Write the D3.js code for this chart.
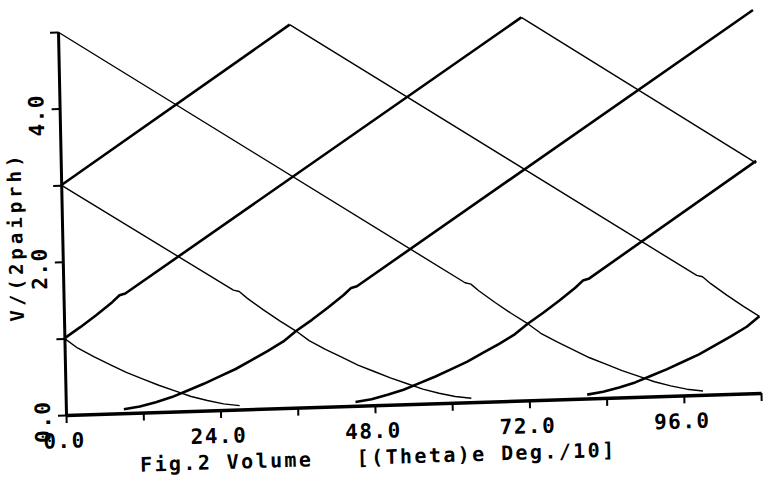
<!DOCTYPE html>
<meta charset="utf-8">
<svg width="764" height="488"></svg>
<style>
    body { margin: 0; background: #fff; }
    svg text {
        font-family: "DejaVu Sans Mono", monospace;
        font-weight: bold;
        fill: #000;
    }
</style>
<script src="https://d3js.org/d3.v7.min.js"></script>
<script>

    // axis ticks and labels
    var xTicks = [0, 12, 24, 36, 48, 60, 72, 84, 96, 108];
    var xLabels = [0, 24, 48, 72, 96];
    var yTicks = [0, 1, 2, 3, 4, 5];
    var yLabels = [0, 2, 4];

    // thick lines (volume rising)
    var rise0 = [[0, 3.0], [36, 5.0]];
    var rise1 = [[0, 1.0], [2.5, 1.14], [5, 1.29], [7.5, 1.45], [8.7, 1.54], [9.6, 1.56], [72, 5.0]];
    var rise2 = [[9, 0.05], [11.5, 0.08], [14, 0.13], [16.5, 0.19], [19, 0.27], [21.5, 0.35],
                 [24, 0.44], [26.5, 0.53], [29, 0.64], [31.5, 0.75], [34, 0.87], [36, 1.0],
                 [38.5, 1.14], [41, 1.29], [43.5, 1.45], [44.7, 1.54], [45.6, 1.56], [108, 5.0]];
    var rise3 = [[45, 0.05], [47.5, 0.08], [50, 0.13], [52.5, 0.19], [55, 0.27], [57.5, 0.35],
                 [60, 0.44], [62.5, 0.53], [65, 0.64], [67.5, 0.75], [70, 0.87], [72, 1.0],
                 [74.5, 1.14], [77, 1.29], [79.5, 1.45], [80.7, 1.54], [81.6, 1.56], [108, 3.03]];
    var rise4 = [[81, 0.05], [83.5, 0.08], [86, 0.13], [88.5, 0.19], [91, 0.27], [93.5, 0.35],
                 [96, 0.44], [98.5, 0.53], [101, 0.64], [103.5, 0.75], [106, 0.87], [108, 1.0]];

    // thin lines (volume falling)
    var fall0 = [[0, 1.0], [2, 0.87], [4.5, 0.75], [7, 0.64], [9.5, 0.53], [12, 0.44],
                 [14.5, 0.35], [17, 0.27], [19.5, 0.19], [22, 0.13], [24.5, 0.08], [27, 0.05]];
    var fall1 = [[0, 3.0], [26.4, 1.56], [27.3, 1.54], [28.5, 1.45], [31, 1.29], [33.5, 1.14],
                 [36, 1.0], [38, 0.87], [40.5, 0.75], [43, 0.64], [45.5, 0.53], [48, 0.44],
                 [50.5, 0.35], [53, 0.27], [55.5, 0.19], [58, 0.13], [60.5, 0.08], [63, 0.05]];
    var fall2 = [[0, 5.0], [62.4, 1.56], [63.3, 1.54], [64.5, 1.45], [67, 1.29], [69.5, 1.14],
                 [72, 1.0], [74, 0.87], [76.5, 0.75], [79, 0.64], [81.5, 0.53], [84, 0.44],
                 [86.5, 0.35], [89, 0.27], [91.5, 0.19], [94, 0.13], [96.5, 0.08], [99, 0.05]];
    var fall3 = [[36, 5.0], [98.4, 1.56], [99.3, 1.54], [100.5, 1.45], [103, 1.29], [105.5, 1.14],
                 [108, 1.0]];
    var fall4 = [[72, 5.0], [108, 3.0]];

    var thick = [rise0, rise1, rise2, rise3, rise4];
    var thin = [fall0, fall1, fall2, fall3, fall4];

    var svg = d3.select("svg"),
        width = 695,
        height = 383;

    // the scanned plot is slightly tilted, so the whole frame gets a small skew
    var g = svg.append("g")
        .attr("transform", "matrix(1,-0.0317,0.0209,1,66,415)");

    var x = d3.scaleLinear().domain([0, 108]).range([0, width]);
    var y = d3.scaleLinear().domain([0, 5]).range([0, -height]);

    var line = d3.line()
        .x(d => x(d[0]))
        .y(d => y(d[1]));

    g.selectAll("path.thin")
        .data(thin)
        .enter().append("path")
        .attr("class", "thin")
        .attr("d", line)
        .attr("fill", "none")
        .attr("stroke", "#000")
        .attr("stroke-width", 1.4)
        .attr("stroke-linejoin", "round");

    g.selectAll("path.thick")
        .data(thick)
        .enter().append("path")
        .attr("class", "thick")
        .attr("d", line)
        .attr("fill", "none")
        .attr("stroke", "#000")
        .attr("stroke-width", 2.6)
        .attr("stroke-linejoin", "round");

    // axes
    var xAxis = g.append("g")
        .call(d3.axisBottom(x).tickValues(xTicks).tickSize(8).tickSizeOuter(0).tickFormat(""));
    xAxis.select(".domain").attr("stroke-width", 3.5);
    xAxis.selectAll(".tick line").attr("stroke-width", 2);

    var yAxis = g.append("g")
        .attr("transform", "translate(0," + (-height) + ")")
        .call(d3.axisLeft(d3.scaleLinear().domain([0, 5]).range([height, 0]))
            .tickValues(yTicks).tickSize(8).tickSizeOuter(0).tickFormat(""));
    yAxis.select(".domain").attr("stroke-width", 3);
    yAxis.selectAll(".tick line").attr("stroke-width", 2);

    // tick labels
    g.selectAll("text.xl")
        .data(xLabels)
        .enter().append("text")
        .attr("class", "xl")
        .attr("x", d => x(d) - 2)
        .attr("y", 33)
        .attr("text-anchor", "middle")
        .style("font-size", "21px")
        .style("letter-spacing", "1.5px")
        .text(d => d.toFixed(1));

    g.selectAll("text.yl")
        .data(yLabels)
        .enter().append("text")
        .attr("class", "yl")
        .attr("transform", d => "translate(-16," + (y(d) + 6) + ") rotate(-90)")
        .attr("text-anchor", "middle")
        .style("font-size", "21px")
        .style("letter-spacing", "1.5px")
        .text(d => d.toFixed(1));

    // axis titles
    g.append("text")
        .attr("transform", "translate(-40,-180) rotate(-90)")
        .attr("text-anchor", "middle")
        .style("font-size", "19px")
        .style("letter-spacing", "4px")
        .text("V/(2paiprh)");

    g.append("text")
        .attr("x", 73)
        .attr("y", 59)
        .style("font-size", "20px")
        .style("letter-spacing", "2.4px")
        .style("white-space", "pre")
        .text("Fig.2 Volume   [(Theta)e Deg./10]");

</script>
